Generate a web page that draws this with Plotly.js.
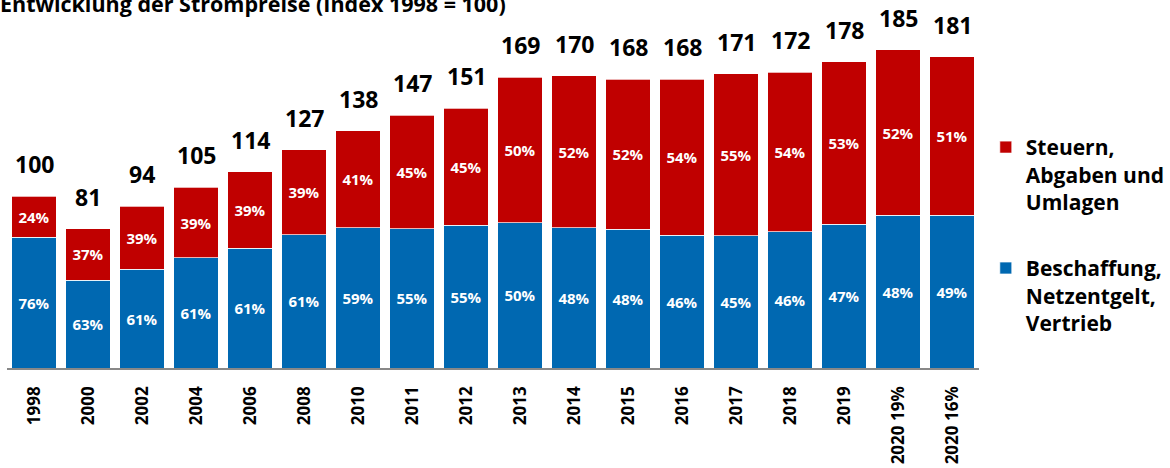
<!DOCTYPE html>
<html>
<head>
<meta charset="utf-8">
<script src="https://cdn.plot.ly/plotly-3.0.1.min.js"></script>
<style>html,body{margin:0;padding:0;background:#fff;}#chart{width:1170px;height:468px;}</style>
</head>
<body>
<div id="chart"></div>
<script>
const categories = ["1998","2000","2002","2004","2006","2008","2010","2011","2012","2013","2014","2015","2016","2017","2018","2019","2020 19%","2020 16%"];
const totalIndex = [100,81,94,105,114,127,138,147,151,169,170,168,168,171,172,178,185,181];
const pctSteuern = [24,37,39,39,39,39,41,45,45,50,52,52,54,55,54,53,52,51];
const pctBeschaffung = [76,63,61,61,61,61,59,55,55,50,48,48,46,45,46,47,48,49];
const seriesNames = ["Steuern,<br>Abgaben und<br>Umlagen", "Beschaffung,<br>Netzentgelt,<br>Vertrieb"];
const titleText = "Entwicklung der Strompreise (Index 1998 = 100)";

const FONT = "Open Sans, Liberation Sans, Arial, sans-serif";
const RED = "#C00000", BLUE = "#0068B1";

const blueVals = totalIndex.map((t, i) => t * pctBeschaffung[i] / 100);
const redVals = totalIndex.map((t, i) => t * pctSteuern[i] / 100);

function barTrace(name, group, rank, yvals, pcts, color) {
  return {
    type: "bar", name: name, legendgroup: group, legendrank: rank,
    x: categories, y: yvals,
    text: pcts.map(v => v + "%"),
    textposition: "inside", insidetextanchor: "middle", textangle: 0, constraintext: "none",
    textfont: {family: FONT, size: 15, color: "#ffffff", weight: 700},
    marker: {color: color, line: {color: "rgba(255,255,255,0.7)", width: 1}},
    hoverinfo: "skip"
  };
}

const traces = [
  barTrace(seriesNames[1], "b", 2, blueVals, pctBeschaffung, BLUE),
  barTrace(seriesNames[0], "a", 1, redVals, pctSteuern, RED)
];

const annotations = categories.map((c, i) => ({
  x: i, y: totalIndex[i], xref: "x", yref: "y",
  text: String(totalIndex[i]), showarrow: false,
  yanchor: "bottom", yshift: 14,
  font: {family: FONT, size: 23, color: "#000", weight: 700}
}));

const layout = {
  width: 1170, height: 468,
  margin: {l: 7, r: 189, t: 0, b: 100},
  paper_bgcolor: "#fff", plot_bgcolor: "#fff",
  barmode: "stack", bargap: 0.17,
  title: {text: titleText, x: 0, xanchor: "left", xref: "container", yref: "container", y: 0.99, yanchor: "middle",
          font: {family: FONT, size: 21.5, color: "#000", weight: 700}},
  xaxis: {type: "category", showgrid: false, zeroline: false, showline: true, linecolor: "#888", linewidth: 1.5,
          ticks: "outside", ticklen: 10, tickcolor: "rgba(0,0,0,0)", tickangle: -90,
          tickfont: {family: FONT, size: 17, color: "#000", weight: 700}},
  yaxis: {range: [0, 214], visible: false, fixedrange: true},
  showlegend: true,
  legend: {x: 1.007, xanchor: "left", y: 0.655, yanchor: "top", traceorder: "grouped", tracegroupgap: 36,
           valign: "top", itemwidth: 30,
           font: {family: FONT, size: 21, color: "#000", weight: 700}},
  annotations: annotations
};

Plotly.newPlot("chart", traces, layout, {staticPlot: true, displayModeBar: false});
</script>
</body>
</html>
